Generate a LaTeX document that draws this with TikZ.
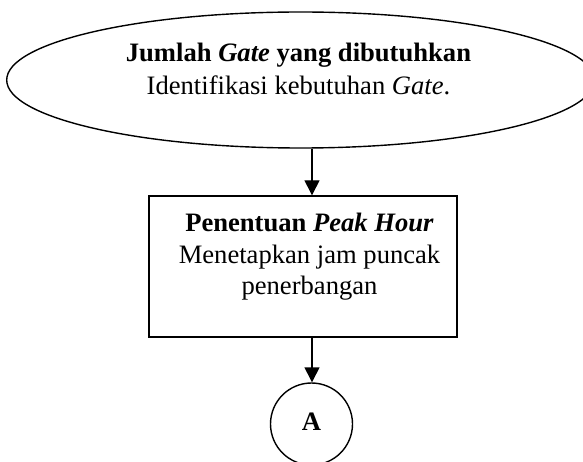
\documentclass[tikz,border=0pt]{standalone}
\usepackage{fontspec}
\setmainfont{Liberation Serif}
\usetikzlibrary{arrows.meta,shapes.geometric}
\tikzset{
  outl/.style={draw=black, line width=1.4pt},
  arr/.style={line width=1.4pt, -{Triangle[width=15pt,length=15pt]}},
  txta/.style={anchor=base, inner sep=0pt, font=\fontsize{26.6}{31}\selectfont},
  txtb/.style={anchor=base, inner sep=0pt, font=\fontsize{26.6}{31}\selectfont},
}
\begin{document}
\begin{tikzpicture}[x=1pt,y=-1pt]
\useasboundingbox (0,0) rectangle (583,462);
\clip (0,0) rectangle (583,462);
% shapes
\node[outl, ellipse, minimum width=588pt, minimum height=136pt, inner sep=0pt] (ell) at (300.7,80) {};
\node[outl, rectangle, minimum width=308pt, minimum height=141pt, inner sep=0pt] (box) at (303,266.5) {};
\node[outl, circle, minimum size=82pt, inner sep=0pt] (circ) at (311.5,424) {};
% texts
\node[txta] (e1) at (298.5,61.5) {\textbf{Jumlah \textit{Gate} yang dibutuhkan}};
\node[txta] (e2) at (298.5,95) {Identifikasi kebutuhan \textit{Gate}.};
\node[txtb] (b1) at (309.5,231.7) {\textbf{Penentuan \textit{Peak Hour}}};
\node[txtb] (b2) at (309.5,263.3) {Menetapkan jam puncak};
\node[txtb] (b3) at (309.5,294.3) {penerbangan};
\node[txtb] (ca) at (311.5,430) {\textbf{A}};
% connectors
\coordinate (x) at (312,0);
\draw[arr] (ell.south -| x) -- (box.north -| x);
\draw[arr] (box.south -| x) -- (circ.north -| x);
\end{tikzpicture}
\end{document}
